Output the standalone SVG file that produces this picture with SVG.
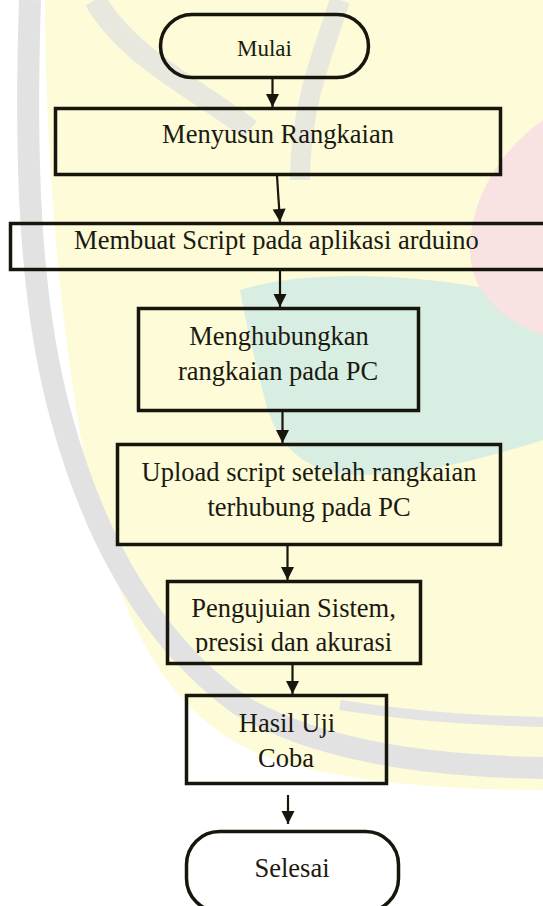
<svg xmlns="http://www.w3.org/2000/svg" width="543" height="906" viewBox="0 0 543 906">
  <defs>
    <style>
      .box { fill: none; stroke: #16160c; stroke-width: 3.5; }
      .txt { font-family: "Liberation Serif", "Times New Roman", serif; font-size: 26.5px; fill: #1a1a10; text-anchor: middle; }
      .small { font-size: 23px; }
      .conn { stroke: #16160c; stroke-width: 2.2; fill: none; marker-end: url(#arrow); }
    </style>
    <marker id="arrow" markerUnits="userSpaceOnUse" markerWidth="16" markerHeight="16" viewBox="0 0 16 16" refX="14" refY="8" orient="auto">
      <path d="M1,1.5 L14,8 L1,14.5 Z" fill="#16160c"/>
    </marker>
    <clipPath id="clip5">
      <rect x="160" y="575" width="270" height="78"/>
    </clipPath>
  </defs>

  <rect x="0" y="0" width="543" height="906" fill="#ffffff"/>

  <g id="watermark">
    <path d="M45,0 H543 V790 C450,790 310,782 240,745 C150,695 110,590 85,460 C60,330 45,150 45,0 Z" fill="#fdfbd8"/>
    <path d="M240,290 C300,270 420,270 543,300 V440 C480,460 420,475 360,475 C300,475 275,440 265,400 C255,360 245,320 240,290 Z" fill="#d9eee2"/>
    <path d="M543,120 C500,150 470,200 470,250 C470,290 500,320 543,335 Z" fill="#f8e2e2"/>
    <path d="M30,0 C25,150 28,300 62,420 C95,540 150,640 240,705 C320,752 430,766 543,768" fill="none" stroke="#e2e2e2" stroke-width="22"/>
    <path d="M340,705 C410,716 470,720 543,722" fill="none" stroke="#e4e4e4" stroke-width="10"/>
    <path d="M95,0 C130,60 200,90 250,130" fill="none" stroke="#e8e8de" stroke-width="22"/>
    <path d="M340,0 C320,60 300,110 300,180" fill="none" stroke="#e8e8de" stroke-width="20"/>
  </g>

  <g id="connectors">
    <line class="conn" x1="272.5" y1="79" x2="272.5" y2="107"/>
    <line class="conn" x1="277" y1="176" x2="280" y2="222"/>
    <line class="conn" x1="280" y1="271" x2="280" y2="307"/>
    <line class="conn" x1="282.5" y1="412" x2="282.5" y2="443"/>
    <line class="conn" x1="287.5" y1="546" x2="287.5" y2="580"/>
    <line class="conn" x1="292.5" y1="665" x2="292.5" y2="694"/>
    <line class="conn" x1="288" y1="795" x2="288" y2="824"/>
  </g>

  <g id="mulai">
    <rect class="box" x="160.5" y="14.5" width="208" height="63" rx="31.5" ry="31.5"/>
    <text class="txt small" x="264.5" y="56">Mulai</text>
  </g>

  <g id="menyusun">
    <rect class="box" x="55.5" y="108.5" width="445" height="66"/>
    <text class="txt" x="278" y="143">Menyusun Rangkaian</text>
  </g>

  <g id="membuat">
    <rect class="box" x="10.5" y="223.5" width="560" height="46"/>
    <text class="txt" x="276.5" y="249">Membuat Script pada aplikasi arduino</text>
  </g>

  <g id="menghubungkan">
    <rect class="box" x="138.5" y="308.5" width="280" height="102"/>
    <text class="txt" x="279" y="345">Menghubungkan</text>
    <text class="txt" x="278" y="380">rangkaian pada PC</text>
  </g>

  <g id="upload">
    <rect class="box" x="117.5" y="444.5" width="383" height="100"/>
    <text class="txt" x="309" y="481">Upload script setelah rangkaian</text>
    <text class="txt" x="309" y="516">terhubung pada PC</text>
  </g>

  <g id="pengujian">
    <rect class="box" x="167.5" y="581.5" width="253" height="82"/>
    <text class="txt" x="293.5" y="617">Pengujuian Sistem,</text>
    <text class="txt" x="293.5" y="651" clip-path="url(#clip5)">presisi dan akurasi</text>
  </g>

  <g id="hasil">
    <rect class="box" x="186.5" y="695.5" width="200" height="88"/>
    <text class="txt" x="287" y="732">Hasil Uji</text>
    <text class="txt" x="286" y="767">Coba</text>
  </g>

  <g id="selesai">
    <rect class="box" x="186.5" y="831.5" width="212" height="80" rx="33" ry="33"/>
    <text class="txt" x="292" y="877">Selesai</text>
  </g>
</svg>
